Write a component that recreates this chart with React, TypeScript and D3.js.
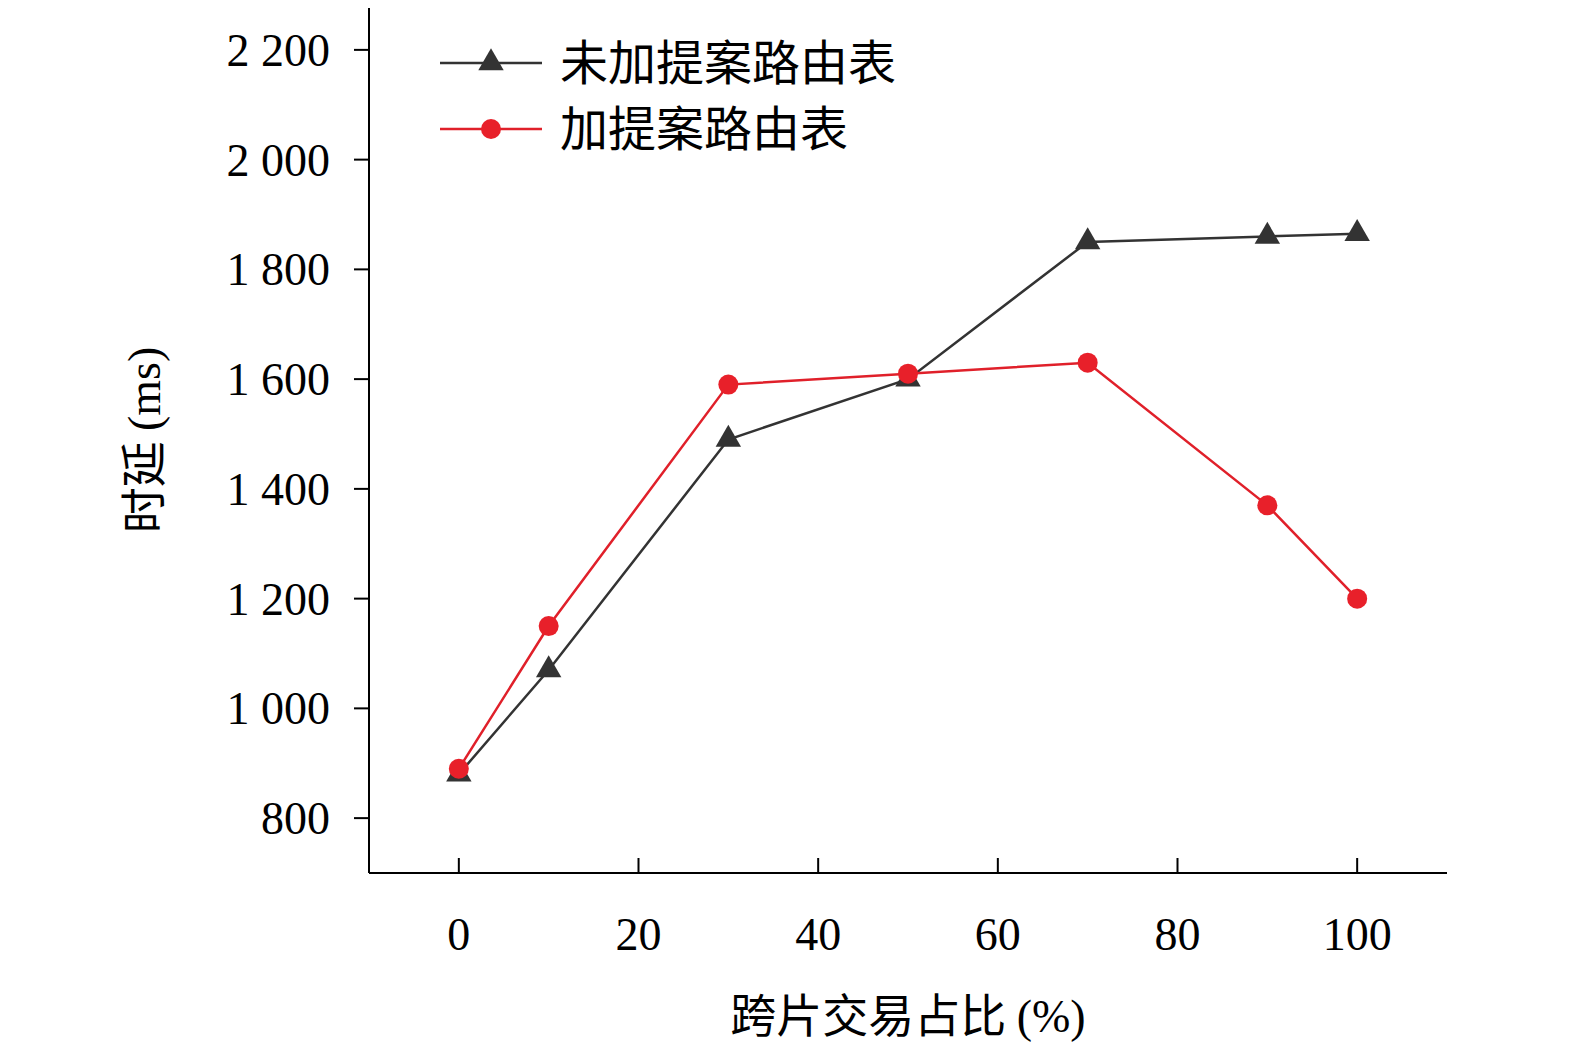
import React, { useRef, useEffect } from "react";
import * as d3 from "d3";

const xValues = [0, 10, 30, 50, 70, 90, 100];
const withoutTable = [880, 1070, 1490, 1600, 1850, 1860, 1865];
const withTable = [890, 1150, 1590, 1610, 1630, 1370, 1200];
const xTicks = [0, 20, 40, 60, 80, 100];
const yTicks = [800, 1000, 1200, 1400, 1600, 1800, 2000, 2200];
const seriesNames = ["未加提案路由表", "加提案路由表"];

const App: React.FC = () => {
  const svgRef = useRef<SVGSVGElement>(null);

  useEffect(() => {
    const svg = d3.select(svgRef.current);
    svg.selectAll("*").remove();
    const numFont = "'Liberation Serif', 'Times New Roman', serif";
    const cjkFont = "'Noto Sans CJK SC', sans-serif";

    const x = d3.scaleLinear().domain([-10, 110]).range([369, 1447]);
    const y = d3.scaleLinear().domain([700, 2300]).range([873, -5]);

    // axes
    svg.append("line").attr("x1", 369).attr("x2", 1447).attr("y1", 873).attr("y2", 873)
      .attr("stroke", "#000").attr("stroke-width", 2);
    svg.append("line").attr("x1", 369).attr("x2", 369).attr("y1", 873).attr("y2", 5)
      .attr("stroke", "#000").attr("stroke-width", 2);

    yTicks.forEach((t) => {
      svg.append("line").attr("x1", 369).attr("x2", 354).attr("y1", y(t)).attr("y2", y(t))
        .attr("stroke", "#000").attr("stroke-width", 2);
      svg.append("text").attr("x", 330).attr("y", y(t)).attr("dy", "0.35em")
        .attr("text-anchor", "end").attr("font-family", numFont).attr("font-size", 46)
        .text(d3.format(",")(t).replace(",", " "));
    });
    xTicks.forEach((t) => {
      svg.append("line").attr("x1", x(t)).attr("x2", x(t)).attr("y1", 873).attr("y2", 858)
        .attr("stroke", "#000").attr("stroke-width", 2);
      svg.append("text").attr("x", x(t)).attr("y", 950)
        .attr("text-anchor", "middle").attr("font-family", numFont).attr("font-size", 46)
        .text(t);
    });

    // axis titles
    const xt = svg.append("text").attr("x", 908).attr("y", 1032).attr("text-anchor", "middle")
      .attr("font-size", 46);
    xt.append("tspan").attr("font-family", cjkFont).text("跨片交易占比 ");
    xt.append("tspan").attr("font-family", numFont).text("(%)");
    const yt = svg.append("text").attr("transform", "translate(160,440) rotate(-90)")
      .attr("text-anchor", "middle").attr("font-size", 46);
    yt.append("tspan").attr("font-family", cjkFont).text("时延 ");
    yt.append("tspan").attr("font-family", numFont).text("(ms)");

    const line = d3.line<number>().x((_, i) => x(xValues[i])).y((d) => y(d));
    const tri = d3.symbol().type(d3.symbolTriangle).size(280);

    svg.append("path").attr("d", line(withoutTable)).attr("fill", "none")
      .attr("stroke", "#333").attr("stroke-width", 2.5);
    svg.append("path").attr("d", line(withTable)).attr("fill", "none")
      .attr("stroke", "#e0202a").attr("stroke-width", 2.5);

    withoutTable.forEach((v, i) => {
      svg.append("path").attr("d", tri()).attr("transform", `translate(${x(xValues[i])},${y(v)})`)
        .attr("fill", "#333");
    });
    withTable.forEach((v, i) => {
      svg.append("circle").attr("cx", x(xValues[i])).attr("cy", y(v)).attr("r", 10)
        .attr("fill", "#e8202a");
    });

    // legend
    const colors = ["#333", "#e0202a"];
    seriesNames.forEach((name, i) => {
      const ly = 63 + i * 66;
      svg.append("line").attr("x1", 440).attr("x2", 542).attr("y1", ly).attr("y2", ly)
        .attr("stroke", colors[i]).attr("stroke-width", 2.5);
      if (i === 0) {
        svg.append("path").attr("d", tri()).attr("transform", `translate(491,${ly})`).attr("fill", "#333");
      } else {
        svg.append("circle").attr("cx", 491).attr("cy", ly).attr("r", 10).attr("fill", "#e8202a");
      }
      svg.append("text").attr("x", 560).attr("y", ly).attr("dy", "0.36em")
        .attr("font-family", cjkFont).attr("font-size", 48).text(name);
    });
  }, []);

  return <svg ref={svgRef} width={1575} height={1059} style={{ display: "block", background: "#fff", margin: -8 }}></svg>;
};

export default App;
